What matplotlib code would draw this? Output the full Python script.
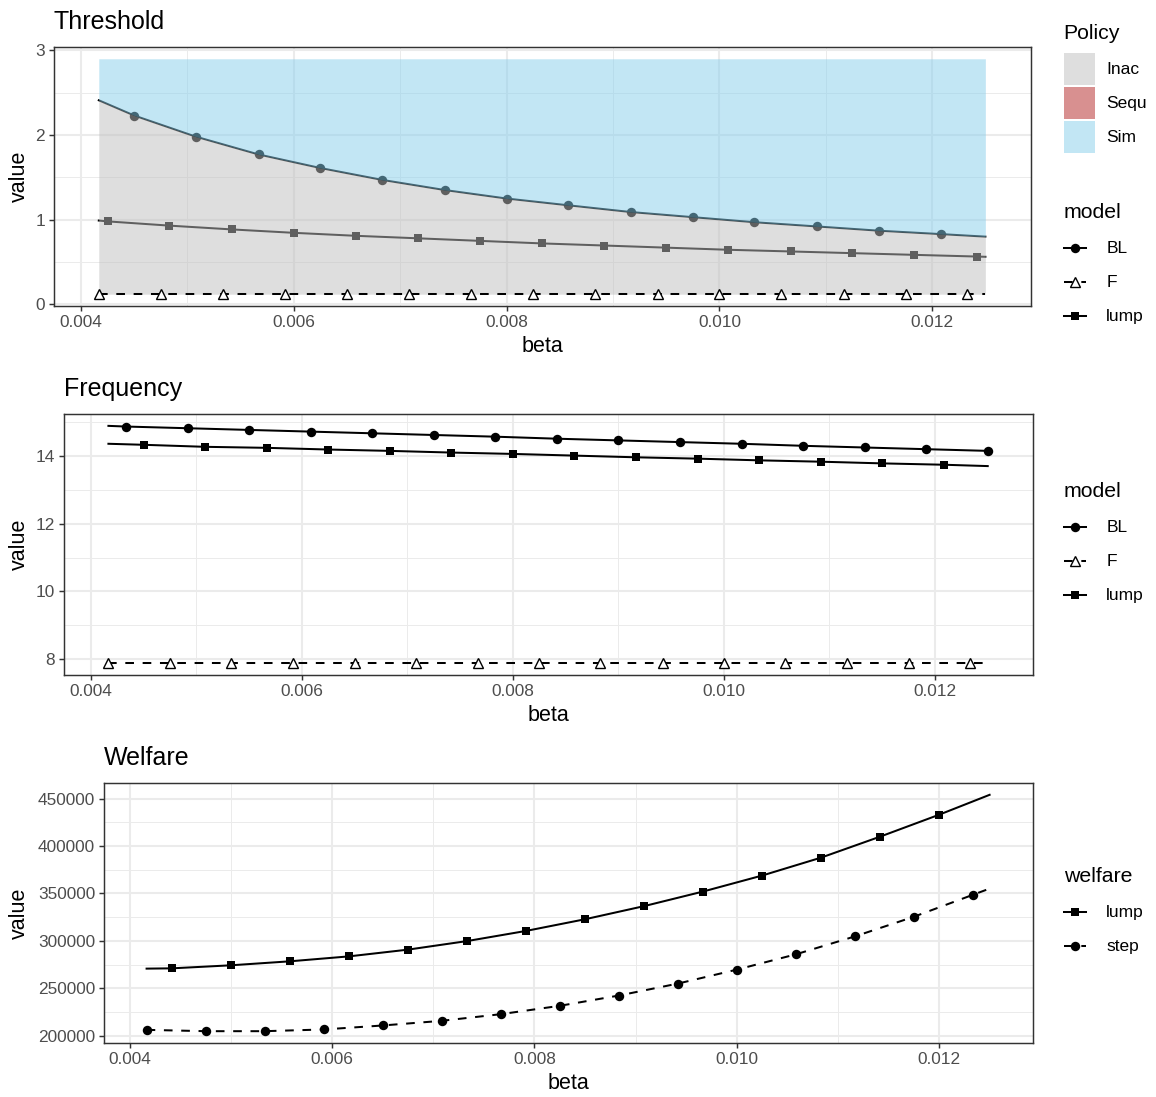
import matplotlib
matplotlib.use("Agg")
import numpy as np
import matplotlib.pyplot as plt
from matplotlib.lines import Line2D
from matplotlib.patches import Patch
from matplotlib.legend_handler import HandlerLine2D

plt.rcParams['font.family'] = ['Liberation Sans', 'DejaVu Sans']

# ---------------- data ----------------
x_ticks = [0.004, 0.006, 0.008, 0.010, 0.012]
x_tick_labels = ["0.004", "0.006", "0.008", "0.010", "0.012"]
x_minor = [0.005, 0.007, 0.009, 0.011]

# Threshold panel
thr_BL_x = [0.004167, 0.00450, 0.00508, 0.00567, 0.00625, 0.00683, 0.00742, 0.00800,
            0.00858, 0.00917, 0.00975, 0.01033, 0.01092, 0.01150, 0.01208, 0.0125]
thr_BL_y = [2.41, 2.23, 1.98, 1.77, 1.61, 1.47, 1.35, 1.25, 1.17, 1.09, 1.03, 0.97,
            0.92, 0.87, 0.83, 0.80]
thr_lump_x = [0.004167, 0.00425, 0.00483, 0.00542, 0.00600, 0.00658, 0.00717, 0.00775,
              0.00833, 0.00892, 0.00950, 0.01008, 0.01067, 0.01125, 0.01183, 0.01242, 0.0125]
thr_lump_y = [0.99, 0.98, 0.93, 0.885, 0.845, 0.81, 0.78, 0.75, 0.72, 0.695, 0.67, 0.645,
              0.625, 0.605, 0.585, 0.565, 0.562]
thr_F_x = [0.004167, 0.00475, 0.00533, 0.00592, 0.00650, 0.00708, 0.00767, 0.00825,
           0.00883, 0.00942, 0.01000, 0.01058, 0.01117, 0.01175, 0.01233, 0.0125]
thr_F_y = [0.12, 0.12, 0.12, 0.12, 0.12, 0.12, 0.12, 0.12, 0.12, 0.12, 0.12, 0.12,
           0.12, 0.12, 0.12, 0.12]
ribbon_bottom = 0.12
ribbon_top = 2.9
policy_labels = ["Inac", "Sequ", "Sim"]
policy_colors = ["#BEBEBE", "#B22222", "#87CEEB"]

# Frequency panel
frq_BL_x = [0.004167, 0.004333, 0.004917, 0.005500, 0.006083, 0.006667, 0.007250, 0.007833,
            0.008417, 0.009000, 0.009583, 0.010167, 0.010750, 0.011333, 0.011917, 0.012500]
frq_BL_y = [14.90, 14.88, 14.83, 14.78, 14.73, 14.68, 14.63, 14.58, 14.52, 14.47, 14.42,
            14.37, 14.31, 14.26, 14.21, 14.16]
frq_lump_x = [0.004167, 0.004500, 0.005083, 0.005667, 0.006250, 0.006833, 0.007417, 0.008000,
              0.008583, 0.009167, 0.009750, 0.010333, 0.010917, 0.011500, 0.012083, 0.012500]
frq_lump_y = [14.37, 14.34, 14.28, 14.25, 14.20, 14.16, 14.11, 14.07, 14.02, 13.97, 13.93,
              13.88, 13.84, 13.79, 13.75, 13.71]
frq_F_x = thr_F_x
frq_F_y = [7.88, 7.88, 7.88, 7.88, 7.88, 7.88, 7.88, 7.88, 7.88, 7.88, 7.88, 7.88,
           7.88, 7.88, 7.88, 7.88]

# Welfare panel
wel_lump_x = [0.004167, 0.004417, 0.005000, 0.005583, 0.006167, 0.006750, 0.007333, 0.007917,
              0.008500, 0.009083, 0.009667, 0.010250, 0.010833, 0.011417, 0.012000, 0.012500]
wel_lump_y = [270800, 271100, 274300, 278500, 283700, 290800, 299800, 310500, 322800,
              336600, 352000, 368800, 387700, 409800, 432900, 453900]
wel_step_x = [0.004167, 0.004750, 0.005333, 0.005917, 0.006500, 0.007083, 0.007667, 0.008250,
              0.008833, 0.009417, 0.010000, 0.010583, 0.011167, 0.011750, 0.012333, 0.012500]
wel_step_y = [206300, 204900, 204900, 206700, 210900, 215800, 222800, 231600, 242400,
              255000, 269700, 285800, 304700, 325400, 348500, 355100]

# ---------------- layout ----------------
W, H = 1156, 1097
fig = plt.figure(figsize=(W / 100, H / 100), dpi=100)

def panel(l, r, t, b):
    return fig.add_axes([l / W, 1 - b / H, (r - l) / W, (b - t) / H])

def fpos(x, y):
    return (x / W, 1 - y / H)

TICK = '#4D4D4D'
LW = 1.45
DASH = (0, (4.3, 4.3))
FS_TICK = 12.4
FS_AXT = 15.5
FS_TITLE = 18.0
FS_LEG = 12.5
FS_LEGT = 15.3
KEY_H = 2.46       # legend key height in legend font sizes (-> 32 px)
MS_O, MS_S, MS_T = 6.8, 5.7, 7.4


class CenteredLine(HandlerLine2D):
    """Line legend key drawn in the vertical centre of the key box."""
    def create_artists(self, legend, orig_handle, xdescent, ydescent, width, height,
                       fontsize, trans):
        arts = super().create_artists(legend, orig_handle, xdescent, ydescent, width,
                                      height, fontsize, trans)
        yc = height / 2 - ydescent
        for a in arts:
            a.set_ydata(np.full(len(a.get_xdata()), yc))
        return arts


def style(ax, xlim, ylim, yticks, ylabels, yminor, title):
    ax.set_xlim(xlim)
    ax.set_ylim(ylim)
    ax.set_xticks(x_ticks)
    ax.set_xticklabels(x_tick_labels)
    ax.set_xticks(x_minor, minor=True)
    ax.set_yticks(yticks)
    ax.set_yticklabels(ylabels)
    ax.set_yticks(yminor, minor=True)
    ax.set_axisbelow(True)
    ax.grid(which='major', color='#EBEBEB', lw=1.45)
    ax.grid(which='minor', color='#EBEBEB', lw=0.72)
    ax.tick_params(which='minor', length=0)
    ax.tick_params(which='major', length=3.4, width=1.05, color='#333333',
                   labelsize=FS_TICK, labelcolor=TICK, pad=3.0)
    for s in ax.spines.values():
        s.set_color('#333333')
        s.set_linewidth(1.05)
    ax.set_xlabel('beta', fontsize=FS_AXT, labelpad=4.2)
    ax.set_ylabel('value', fontsize=FS_AXT)
    bb = ax.get_position()
    ax.yaxis.set_label_coords((29.5 / W - bb.x0) / bb.width, 0.5)
    ax.set_title(title, loc='left', fontsize=FS_TITLE, pad=13)


def model_legend(handles, labels, title, ytop):
    leg = fig.legend(handles, labels, title=title, loc='upper left',
                     bbox_to_anchor=fpos(1064, ytop), frameon=False, fontsize=FS_LEG,
                     title_fontsize=FS_LEGT, alignment='left', borderpad=0,
                     handlelength=1.24, handleheight=KEY_H, handletextpad=1.2,
                     labelspacing=0.115, borderaxespad=0,
                     handler_map={Line2D: CenteredLine()})
    leg._legend_box.sep = 7.0
    return leg

# ---------------- Panel 1: Threshold ----------------
ax1 = panel(54, 1031, 47, 306)
ax1.plot(thr_BL_x, thr_BL_y, color='black', lw=LW, zorder=2)
ax1.plot(thr_BL_x[1:-1], thr_BL_y[1:-1], ls='none', marker='o', ms=MS_O, mew=0,
         color='black', zorder=2)
ax1.plot(thr_lump_x, thr_lump_y, color='black', lw=LW, zorder=2)
ax1.plot(thr_lump_x[1:-1], thr_lump_y[1:-1], ls='none', marker='s', ms=MS_S, mew=0,
         color='black', zorder=2)
ax1.fill_between(thr_BL_x, ribbon_bottom, thr_BL_y, color=policy_colors[0], alpha=0.5,
                 lw=0, zorder=3)
ax1.fill_between(thr_BL_x, thr_BL_y, ribbon_top, color=policy_colors[2], alpha=0.5,
                 lw=0, zorder=3)
ax1.plot(thr_F_x, thr_F_y, color='black', lw=LW, ls=DASH, zorder=4)
ax1.plot(thr_F_x[:-1], thr_F_y[:-1], ls='none', marker='^', ms=MS_T, mew=1.0,
         mfc='white', mec='black', zorder=5)
style(ax1, (0.003746, 0.012929), (-0.019, 3.039), [0, 1, 2, 3], ["0", "1", "2", "3"],
      [0.5, 1.5, 2.5], 'Threshold')

pol_handles = [Patch(facecolor=c, alpha=0.5, edgecolor='none') for c in policy_colors]
leg_p = fig.legend(pol_handles, policy_labels, title='Policy', loc='upper left',
                   bbox_to_anchor=fpos(1063.5, 23.8), frameon=False, fontsize=FS_LEG,
                   title_fontsize=FS_LEGT, alignment='left', borderpad=0,
                   handlelength=1.843, handleheight=KEY_H, handletextpad=0.64,
                   labelspacing=0.115, borderaxespad=0)
leg_p._legend_box.sep = 7.3

model_handles = [
    Line2D([], [], color='black', lw=LW, marker='o', ms=MS_O, mew=0),
    Line2D([], [], color='black', lw=LW, ls=DASH, marker='^', ms=MS_T, mew=1.0,
           mfc='white', mec='black'),
    Line2D([], [], color='black', lw=LW, marker='s', ms=MS_S, mew=0),
]
model_labels = ["BL", "F", "lump"]
model_legend(model_handles, model_labels, 'model', 202.8)

# ---------------- Panel 2: Frequency ----------------
ax2 = panel(64, 1033, 414, 675)
ax2.plot(frq_BL_x, frq_BL_y, color='black', lw=LW, zorder=2)
ax2.plot(frq_BL_x[1:], frq_BL_y[1:], ls='none', marker='o', ms=MS_O, mew=0,
         color='black', zorder=3)
ax2.plot(frq_lump_x, frq_lump_y, color='black', lw=LW, zorder=2)
ax2.plot(frq_lump_x[1:-1], frq_lump_y[1:-1], ls='none', marker='s', ms=MS_S, mew=0,
         color='black', zorder=3)
ax2.plot(frq_F_x, frq_F_y, color='black', lw=LW, ls=DASH, zorder=2)
ax2.plot(frq_F_x[:-1], frq_F_y[:-1], ls='none', marker='^', ms=MS_T, mew=1.0,
         mfc='white', mec='black', zorder=3)
style(ax2, (0.003746, 0.012929), (7.529, 15.251), [8, 10, 12, 14], ["8", "10", "12", "14"],
      [9, 11, 13, 15], 'Frequency')
model_legend(model_handles, model_labels, 'model', 482.1)

# ---------------- Panel 3: Welfare ----------------
ax3 = panel(104, 1033, 783, 1043)
ax3.plot(wel_lump_x, wel_lump_y, color='black', lw=LW, zorder=2)
ax3.plot(wel_lump_x[1:-1], wel_lump_y[1:-1], ls='none', marker='s', ms=MS_S, mew=0,
         color='black', zorder=3)
ax3.plot(wel_step_x, wel_step_y, color='black', lw=LW, ls=DASH, zorder=2)
ax3.plot(wel_step_x[:-1], wel_step_y[:-1], ls='none', marker='o', ms=MS_O, mew=0,
         color='black', zorder=3)
wel_ticks = [200000, 250000, 300000, 350000, 400000, 450000]
style(ax3, (0.003746, 0.012929), (192450, 466350), wel_ticks, [str(v) for v in wel_ticks],
      [225000, 275000, 325000, 375000, 425000], 'Welfare')
wel_handles = [
    Line2D([], [], color='black', lw=LW, marker='s', ms=MS_S, mew=0),
    Line2D([], [], color='black', lw=LW, ls=DASH, marker='o', ms=MS_O, mew=0),
]
model_legend(wel_handles, ["lump", "step"], 'welfare', 867.1)

fig.savefig('out.png', dpi=100)
